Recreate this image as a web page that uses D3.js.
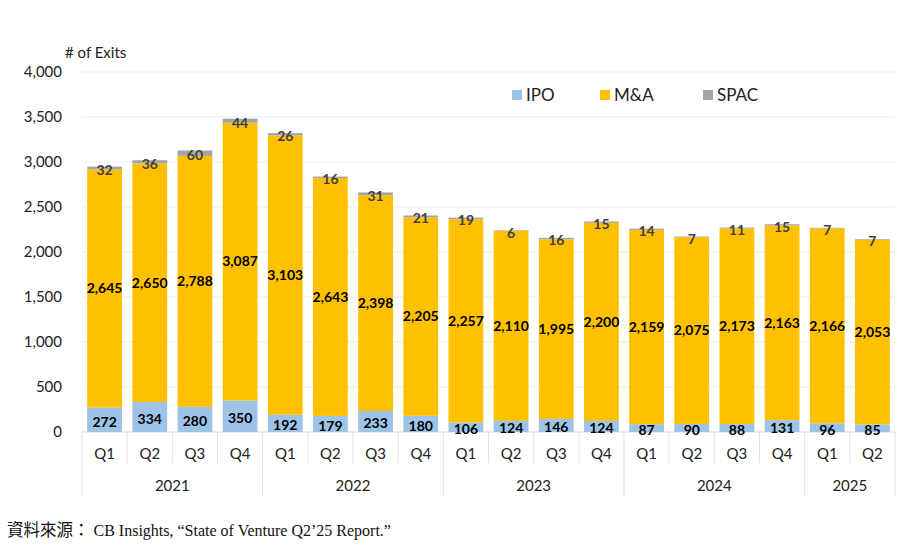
<!DOCTYPE html>
<html><head><meta charset="utf-8">
<script src="https://cdn.jsdelivr.net/npm/d3@7"></script>
<style>body{margin:0;background:#fff}svg{display:block}</style>
</head><body>
<script>
const years = ["2021","2022","2023","2024","2025"];
const quarters = ["Q1","Q2","Q3","Q4","Q1","Q2","Q3","Q4","Q1","Q2","Q3","Q4","Q1","Q2","Q3","Q4","Q1","Q2"];
const quarterYear = ["2021","2021","2021","2021","2022","2022","2022","2022","2023","2023","2023","2023","2024","2024","2024","2024","2025","2025"];
const ipo = [272,334,280,350,192,179,233,180,106,124,146,124,87,90,88,131,96,85];
const mna = [2645,2650,2788,3087,3103,2643,2398,2205,2257,2110,1995,2200,2159,2075,2173,2163,2166,2053];
const spac = [32,36,60,44,26,16,31,21,19,6,16,15,14,7,11,15,7,7];
const seriesNames = ["IPO","M&A","SPAC"];
const seriesColors = ["#9DC3E6","#FFC000","#A5A5A5"];
const labelColors = ["#000","#000","#404040"];
const yTicks = [0,500,1000,1500,2000,2500,3000,3500,4000];

const W = 899, H = 558;
const svg = d3.select("body").append("svg").attr("width", W).attr("height", H);
const mLeft = 82, mRight = 895, mTop = 72, mBottom = 432;
const font = "Lato, 'Open Sans', sans-serif";

const ids = quarters.map((q,i)=>i);
const x = d3.scaleBand().domain(ids).range([mLeft, mRight]).paddingInner(0.23).paddingOuter(0.115);
const y = d3.scaleLinear().domain([0,4000]).range([mBottom, mTop]);

// gridlines
svg.append("g").selectAll("line").data(yTicks).join("line")
  .attr("x1", mLeft).attr("x2", mRight)
  .attr("y1", d=>y(d)).attr("y2", d=>y(d))
  .attr("stroke", d=> d===0 ? "#D9D9D9" : "#EDEDED").attr("stroke-width",1);

// y axis labels
svg.append("g").selectAll("text").data(yTicks).join("text")
  .attr("x", 62).attr("y", d=>y(d)).attr("dy","0.35em")
  .attr("text-anchor","end").attr("font-family",font).attr("font-size",15).attr("fill","#222")
  .text(d3.format(","));
svg.append("text").attr("x",65).attr("y",58).attr("font-family",font).attr("font-size",15).attr("fill","#222").text("# of Exits");

// stacked data
const rows = ids.map(i=>({i, IPO:ipo[i], "M&A":mna[i], SPAC:spac[i]}));
const stack = d3.stack().keys(seriesNames)(rows);
const g = svg.append("g");
stack.forEach((layer, si)=>{
  g.append("g").selectAll("rect").data(layer).join("rect")
    .attr("x", d=>x(d.data.i)).attr("width", x.bandwidth())
    .attr("y", d=>y(d[1])).attr("height", d=>y(d[0])-y(d[1]))
    .attr("fill", seriesColors[si]);
});
stack.forEach((layer, si)=>{
  g.append("g").selectAll("text").data(layer).join("text")
    .attr("x", d=>x(d.data.i)+x.bandwidth()/2)
    .attr("y", d=>(y(d[0])+y(d[1]))/2 + (si===0? 2 : si===2 ? 2 : 0)).attr("dy","0.35em")
    .attr("text-anchor","middle").attr("font-family",font).attr("font-weight","bold")
    .attr("font-size",14).attr("fill",labelColors[si])
    .text(d=>d3.format(",")(d[1]-d[0]));
});

// x axis: quarter separators
const step = x.step();
const bounds = d3.range(0, ids.length+1).map(k => mLeft + k*step);
svg.append("g").selectAll("line").data(bounds).join("line")
  .attr("x1", d=>d).attr("x2", d=>d).attr("y1", mBottom)
  .attr("y2", (d,k)=> (k===0 || k===ids.length || k%4===0) ? 496 : 463)
  .attr("stroke","#E3E3E3");
svg.append("g").selectAll("text").data(ids).join("text")
  .attr("x", i=>x(i)+x.bandwidth()/2).attr("y", 454).attr("dy","0.35em")
  .attr("text-anchor","middle").attr("font-family",font).attr("font-size",15).attr("fill","#222")
  .text(i=>quarters[i]);
svg.append("g").selectAll("text").data(years).join("text")
  .attr("x", yr=>{const idx = ids.filter(i=>quarterYear[i]===yr); return (mLeft+idx[0]*step + mLeft+(idx[idx.length-1]+1)*step)/2;})
  .attr("y", 486).attr("dy","0.35em")
  .attr("text-anchor","middle").attr("font-family",font).attr("font-size",15).attr("fill","#222")
  .text(d=>d);

// legend
const legX = [512, 600, 703];
const leg = svg.append("g");
seriesNames.forEach((n,k)=>{
  leg.append("rect").attr("x",legX[k]).attr("y",90).attr("width",10).attr("height",10).attr("fill",seriesColors[k]);
  leg.append("text").attr("x",legX[k]+14).attr("y",95).attr("dy","0.35em").attr("font-family",font)
    .attr("font-size",17).attr("fill","#222").text(n);
});

// source
const src = svg.append("text").attr("x",7).attr("y",536).attr("fill","#111")
  .attr("font-family","'Liberation Serif', 'Noto Sans CJK TC', serif").attr("font-size",16);
src.append("tspan").attr("font-family","'Noto Sans CJK TC', serif").attr("font-size",16.5).text("資料來源：");
src.append("tspan").attr("dx",4).text("CB Insights, “State of Venture Q2’25 Report.”");
</script>
</body></html>
